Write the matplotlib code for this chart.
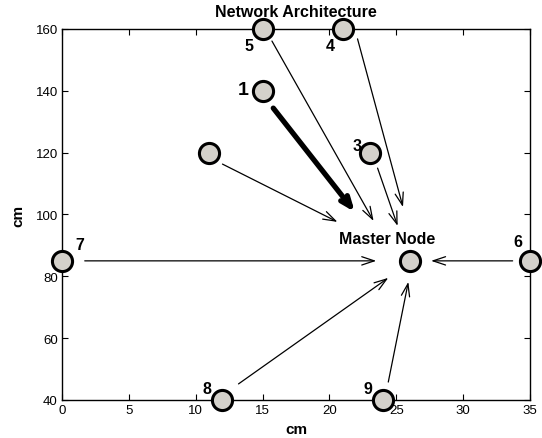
import matplotlib
matplotlib.use("Agg")
import matplotlib.pyplot as plt

plt.rcParams['font.family'] = ['Liberation Sans', 'DejaVu Sans']

# Nodes
node_x = [15, 21, 15, 23, 11, 0, 35, 12, 24]
node_y = [160, 160, 140, 120, 120, 85, 85, 40, 40]
node_labels = ['5', '4', '1', '3', '', '7', '6', '8', '9']
master_x = 26
master_y = 85
master_label = 'Master Node'

# Arrows (start -> end)
arrow_x0 = [15.7, 22.1, 23.6, 12.0, 1.7, 33.7, 13.2, 24.4]
arrow_y0 = [156.1, 156.8, 115.0, 116.3, 85.0, 85.0, 45.2, 45.8]
arrow_x1 = [23.3, 25.5, 25.1, 20.6, 23.5, 27.6, 24.4, 25.9]
arrow_y1 = [97.9, 102.4, 96.3, 97.6, 85.0, 85.0, 79.5, 78.2]
# thick arrow from node 1
thick_x0, thick_y0 = 15.8, 134.4
thick_x1, thick_y1 = 21.9, 100.8

title = 'Network Architecture'
xlabel = 'cm'
ylabel = 'cm'
xticks = [0, 5, 10, 15, 20, 25, 30, 35]
yticks = [40, 60, 80, 100, 120, 140, 160]

fig = plt.figure(figsize=(5.42, 4.39), dpi=100)
ax = fig.add_axes([0.1144, 0.0866, 0.8635, 0.8451])
ax.set_xlim(0, 35)
ax.set_ylim(40, 160)
ax.set_xticks(xticks)
ax.set_yticks(yticks)
ax.tick_params(direction='in', top=True, right=True, length=4, width=0.8,
               labelsize=9.5, pad=3)
for s in ax.spines.values():
    s.set_linewidth(1.0)

for x0, y0, x1, y1 in zip(arrow_x0, arrow_y0, arrow_x1, arrow_y1):
    ax.annotate('', xy=(x1, y1), xytext=(x0, y0),
                arrowprops=dict(arrowstyle='->,head_length=0.9,head_width=0.3',
                                lw=0.9, color='black', shrinkA=0, shrinkB=0))
ax.annotate('', xy=(thick_x1, thick_y1), xytext=(thick_x0, thick_y0),
            arrowprops=dict(arrowstyle='->,head_length=0.75,head_width=0.3',
                            lw=3.8, color='black', shrinkA=0, shrinkB=0))

mk = dict(marker='o', markersize=14.5, markerfacecolor='#d4d1cb',
          markeredgecolor='black', markeredgewidth=2.2, linestyle='none',
          clip_on=False, zorder=5)
ax.plot(node_x, node_y, **mk)
ax.plot([master_x], [master_y], **mk)

label_off = [(-10, -12), (-9, -12), (-14, 1), (-9, 5), (0, 0),
             (13, 12), (-9, 14), (-11, 8), (-11, 8)]
for x, y, lab, off in zip(node_x, node_y, node_labels, label_off):
    if not lab:
        continue
    fs = 14 if lab == '1' else 11.5
    ax.annotate(lab, xy=(x, y), xytext=off, textcoords='offset points',
                ha='center', va='center', fontsize=fs, fontweight='bold',
                zorder=6, annotation_clip=False)

ax.annotate(master_label, xy=(master_x, master_y), xytext=(-16, 16),
            textcoords='offset points', ha='center', va='center',
            fontsize=11.5, fontweight='bold')

ax.set_title(title, fontsize=11.5, fontweight='bold', pad=9)
ax.set_xlabel(xlabel, fontsize=11, fontweight='bold', labelpad=4)
ax.set_ylabel(ylabel, fontsize=11, fontweight='bold', labelpad=7)

fig.savefig('out.png', dpi=100)
